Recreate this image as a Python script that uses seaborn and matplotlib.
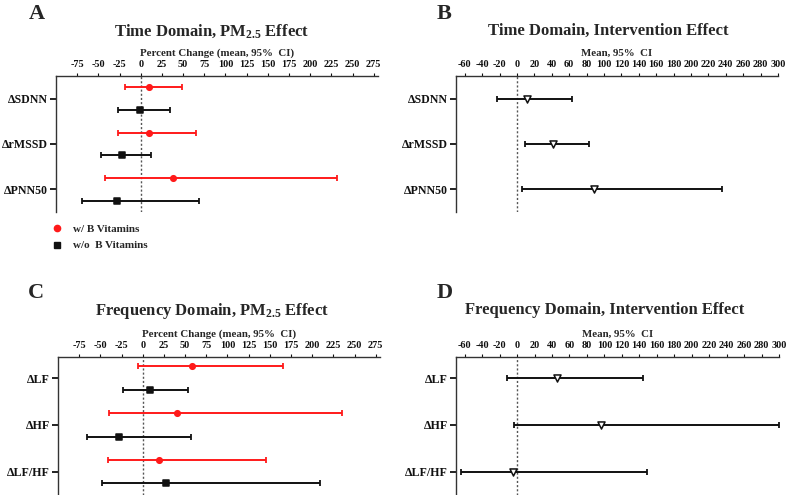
import numpy as np
import pandas as pd
import matplotlib
matplotlib.use("Agg")
import matplotlib.pyplot as plt
from matplotlib.lines import Line2D
import seaborn as sns

# values
time_metrics = ["ΔSDNN", "ΔrMSSD", "ΔPNN50"]
freq_metrics = ["ΔLF", "ΔHF", "ΔLF/HF"]

time_pm_with_mean = [10, 9.5, 38]
time_pm_with_lo = [-18, -27, -42]
time_pm_with_hi = [49, 65, 232]
time_pm_without_mean = [-1, -22.5, -28]
time_pm_without_lo = [-27, -47, -69]
time_pm_without_hi = [35, 12, 69]

time_int_mean = [12, 41, 89]
time_int_lo = [-23, 9, 6]
time_int_hi = [63, 83, 236]

freq_pm_with_mean = [58, 41, 19]
freq_pm_with_lo = [-6, -40, -41]
freq_pm_with_hi = [165, 235, 145]
freq_pm_without_mean = [8, -28, 27]
freq_pm_without_lo = [-23, -66, -48]
freq_pm_without_hi = [54, 57, 209]

freq_int_mean = [46, 96, -5]
freq_int_lo = [-12, -3, -64]
freq_int_hi = [144, 300, 149]

pm_ticks = np.arange(-75, 276, 25)
int_ticks = np.arange(-60, 301, 20)

sns.set_style("ticks")
plt.rcParams["font.family"] = ["Liberation Serif", "DejaVu Serif"]
plt.rcParams["font.weight"] = "bold"
plt.rcParams["mathtext.fontset"] = "custom"
plt.rcParams["mathtext.rm"] = "Liberation Serif:bold"
plt.rcParams["mathtext.bf"] = "Liberation Serif:bold"
plt.rcParams["mathtext.default"] = "bf"


def draw_group(ax, metrics, mean, lo, hi, offset, color, marker, face, size):
    df = pd.DataFrame({"metric": metrics, "mean": mean, "lo": lo, "hi": hi})
    df["pos"] = np.arange(len(metrics)) + offset
    xerr = [df["mean"] - df["lo"], df["hi"] - df["mean"]]
    ax.errorbar(df["mean"], df["pos"], xerr=xerr, fmt="none", ecolor=color,
                elinewidth=1.4, capsize=2.2, capthick=1.3, zorder=2, clip_on=False)
    sns.scatterplot(data=df, x="mean", y="pos", marker=marker, color=face,
                    edgecolor=color, s=size, linewidth=1.1, ax=ax, zorder=3,
                    legend=False, clip_on=False)


def style_axes(ax, metrics, xlim, ticks, xlabel, ylim):
    ax.axvline(0, color="#555555", linestyle=(0, (1.5, 1.5)), linewidth=1.0, zorder=1)
    ax.set_xlim(*xlim)
    ax.set_ylim(*ylim)
    ax.set_xticks(ticks)
    ax.set_xticklabels([str(t) for t in ticks], fontsize=7.4, fontweight="bold")
    ax.set_yticks(range(len(metrics)))
    ax.set_yticklabels(metrics, fontsize=8.6, fontweight="bold")
    ax.xaxis.tick_top()
    ax.xaxis.set_label_position("top")
    ax.set_xlabel(xlabel, fontsize=7.8, fontweight="bold", labelpad=2.8)
    ax.set_ylabel("")
    for side in ["bottom", "right"]:
        ax.spines[side].set_visible(False)
    for side in ["top", "left"]:
        ax.spines[side].set_linewidth(1.0)
        ax.spines[side].set_color("#333333")
    ax.tick_params(axis="x", length=2.2, width=0.8, pad=3.0, colors="#111111")
    ax.tick_params(axis="y", length=4, width=1.3, pad=2, colors="#111111")


fig = plt.figure(figsize=(7.87, 4.95), dpi=100)
W, H = 787, 495


def add_ax(left, top, right, bottom):
    return fig.add_axes([left / W, 1 - bottom / H, (right - left) / W, (bottom - top) / H])


axA = add_ax(56, 76, 378, 212)
axB = add_ax(456, 76, 778, 212)
axC = add_ax(58, 357, 380, 495)
axD = add_ax(456, 357, 779, 495)

# A
draw_group(axA, time_metrics, time_pm_with_mean, time_pm_with_lo, time_pm_with_hi,
           -0.25, "#ff1a1a", "o", "#ff1a1a", 16)
draw_group(axA, time_metrics, time_pm_without_mean, time_pm_without_lo, time_pm_without_hi,
           0.25, "#111111", "s", "#111111", 16)
style_axes(axA, time_metrics, (-100, 280), pm_ticks, "Percent Change (mean, 95%  CI)", (2.5, -0.5))

# B
draw_group(axB, time_metrics, time_int_mean, time_int_lo, time_int_hi,
           0, "#111111", "v", "white", 26)
style_axes(axB, time_metrics, (-70, 300), int_ticks, "Mean, 95%  CI", (2.5, -0.5))

# C
draw_group(axC, freq_metrics, freq_pm_with_mean, freq_pm_with_lo, freq_pm_with_hi,
           -0.25, "#ff1a1a", "o", "#ff1a1a", 16)
draw_group(axC, freq_metrics, freq_pm_without_mean, freq_pm_without_lo, freq_pm_without_hi,
           0.25, "#111111", "s", "#111111", 16)
style_axes(axC, freq_metrics, (-100, 280), pm_ticks, "Percent Change (mean, 95%  CI)", (2.5, -0.45))

# D
draw_group(axD, freq_metrics, freq_int_mean, freq_int_lo, freq_int_hi,
           0, "#111111", "v", "white", 26)
style_axes(axD, freq_metrics, (-70, 300), int_ticks, "Mean, 95%  CI", (2.5, -0.45))

# titles and panel letters
titles = [
    (212, 31, "Time Domain, PM$_{2.5}$ Effect"),
    (608, 31, "Time Domain, Intervention Effect"),
    (212, 311, "Frequency Domain, PM$_{2.5}$ Effect"),
    (605, 310, "Frequency Domain, Intervention Effect"),
]
for x, y, t in titles:
    fig.text(x / W, 1 - y / H, t, ha="center", va="center", fontsize=12, fontweight="bold")

letters = [(37, 14, "A"), (444, 14, "B"), (36, 293, "C"), (445, 293, "D")]
for x, y, t in letters:
    fig.text(x / W, 1 - y / H, t, ha="center", va="center", fontsize=16, fontweight="bold")

handles = [
    Line2D([], [], marker="o", color="#ff1a1a", linestyle="none", markersize=4.5),
    Line2D([], [], marker="s", color="#111111", linestyle="none", markersize=4.5),
]
fig.legend(handles, ["w/ B Vitamins", "w/o  B Vitamins"], loc="upper left",
           bbox_to_anchor=(51 / W, 1 - 224 / H), frameon=False, fontsize=8,
           handlelength=1.0, handletextpad=1.0, labelspacing=0.62,
           borderpad=0, borderaxespad=0)

fig.savefig("out.png", dpi=100)
